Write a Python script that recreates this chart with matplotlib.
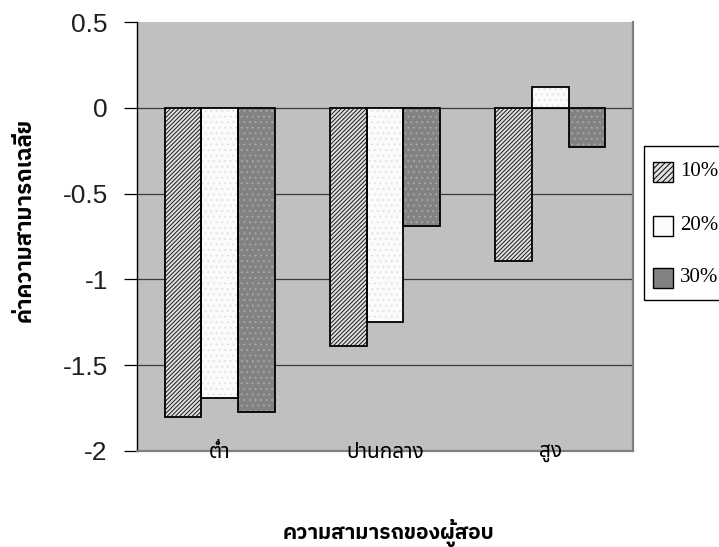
import matplotlib
matplotlib.use("Agg")
import numpy as np
import matplotlib.pyplot as plt
from matplotlib.patches import Rectangle

# mean ability by examinee level, for three percentages
levels = ["ต่ำ", "ปานกลาง", "สูง"]
series = ["10%", "20%", "30%"]
v10 = [-1.80, -1.39, -0.89]
v20 = [-1.69, -1.25, 0.12]
v30 = [-1.77, -0.69, -0.23]

thai = ["Noto Sans Thai", "DejaVu Sans"]
thai_bold = ["IBM Plex Sans Thai", "Noto Sans Thai", "DejaVu Sans"]
plt.rcParams["hatch.linewidth"] = 0.7

W, H = 719, 547
fig = plt.figure(figsize=(W/100, H/100), dpi=100)
ax = fig.add_axes([137/W, 1-451/H, 496/W, 429/H])
ax.set_facecolor("#c0c0c0")

x = np.arange(len(levels))
w = 0.222
styles = [  # face, hatch, hatch colour
    ("#e0e0e0", "////////", "#1a1a1a"),
    ("#fbfbfb", "...", "#e2e2e2"),
    ("#828282", "...", "#a8a8a8"),
]
for k, vals in enumerate([v10, v20, v30]):
    fc, hat, hc = styles[k]
    pos = x + (k - 1) * w
    # hatched fill first, then black outline on top
    ax.bar(pos, vals, w, color=fc, hatch=hat, edgecolor=hc, linewidth=0, zorder=2)
    ax.bar(pos, vals, w, fill=False, edgecolor="black", linewidth=1.3, zorder=3)

ax.set_xlim(-0.5, 2.5)
ax.set_ylim(-2, 0.5)
ax.set_yticks([0.5, 0, -0.5, -1, -1.5, -2])
ax.set_yticklabels(["0.5", "0", "-0.5", "-1", "-1.5", "-2"], family="Liberation Sans", fontsize=19)
for g in [0, -0.5, -1, -1.5]:
    ax.axhline(g, color="#3a3a3a", linewidth=0.9, zorder=1)
ax.tick_params(axis="y", direction="out", length=9.5, width=0.9, pad=11.5,
               colors="black", labelcolor="#202020")
ax.set_xticks([])

ax.spines["top"].set_visible(False)
ax.spines["left"].set_color("black")
ax.spines["left"].set_linewidth(1.0)
for s in ["right", "bottom"]:
    ax.spines[s].set_color("#808080")
    ax.spines[s].set_linewidth(1.6)

# category names sit across the bottom edge
for i, lab in enumerate(levels):
    ax.annotate(lab, (i, -2), xytext=(0, -1), textcoords="offset pixels",
                ha="center", va="center", fontsize=15, family=thai)

fig.text(24/W, 1-220/H, "ค่าความสามารถเฉลี่ย", rotation=90, ha="center", va="center",
         fontsize=16, fontweight="bold", family=thai_bold)
fig.text(388/W, 1-533/H, "ความสามารถของผู้สอบ", ha="center", va="center",
         fontsize=15, fontweight="bold", family=thai_bold)

# legend box, running off the right edge of the figure
fig.patches.append(Rectangle((644/W, 1-300/H), 100/W, 154/H, transform=fig.transFigure,
                             facecolor="white", edgecolor="black", linewidth=1.0))
for k, name in enumerate(series):
    yc = [172, 226, 278][k]
    fc, hat, hc = styles[k]
    fig.patches.append(Rectangle((653/W, 1-(yc+10)/H), 20/W, 20/H, transform=fig.transFigure,
                                 facecolor=fc, hatch="//////" if k == 0 else None,
                                 edgecolor="black", linewidth=1.0))
    fig.text(680/W, 1-yc/H, name, ha="left", va="center",
             family="Liberation Serif", fontsize=15)

fig.savefig("out.png", dpi=100)
